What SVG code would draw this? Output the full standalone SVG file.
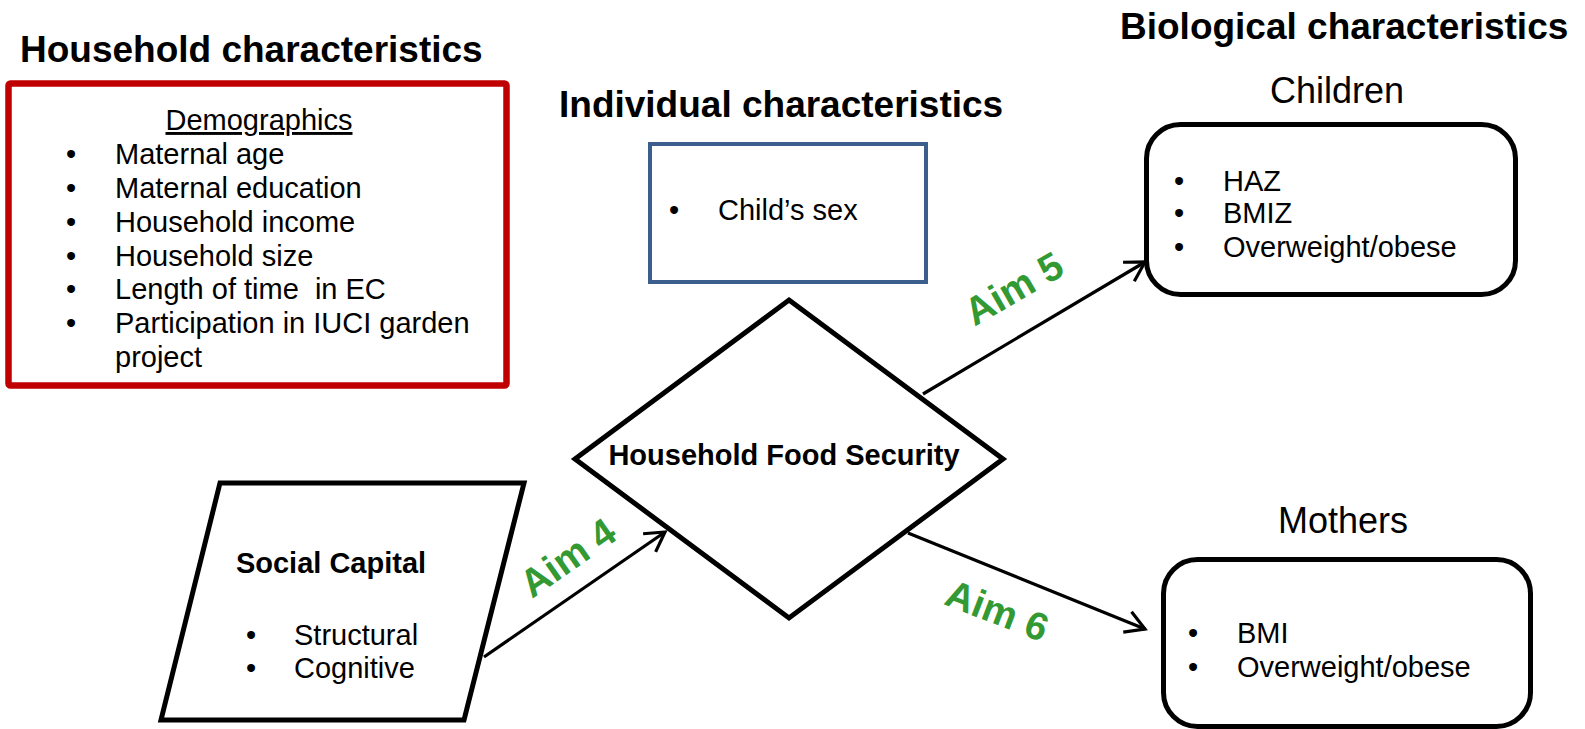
<svg xmlns="http://www.w3.org/2000/svg" width="1585" height="729" viewBox="0 0 1585 729">
<style>
text{font-family:"Liberation Sans",Arial,sans-serif;fill:#000}
.title{font-size:37px;font-weight:bold}
.sub{font-size:36px}
.body{font-size:29px}
.bold{font-size:29px;font-weight:bold}
.bul{font-size:29px;text-anchor:middle}
.aim{font-size:39px;font-weight:bold;fill:#339933;text-anchor:middle}
.shape{fill:#fff;stroke:#000;stroke-width:5;stroke-linejoin:miter}
.conn{stroke:#000;stroke-width:3.2;fill:none}
</style>
<defs>
<marker id="arr" markerUnits="userSpaceOnUse" viewBox="-22 -14 26 28" markerWidth="26" markerHeight="28" refX="0" refY="0" orient="auto" overflow="visible">
<path d="M-19,-11 L0,0 L-19,11" fill="none" stroke="#000" stroke-width="3.2" stroke-linejoin="miter"/>
</marker>
</defs>
<rect width="1585" height="729" fill="#fff"/>

<g id="household">
<text class="title" x="20" y="62">Household characteristics</text>
<rect x="8.5" y="83.5" width="498" height="302" rx="2" fill="#fff" stroke="#C00000" stroke-width="6.5"/>
<text class="body" x="259" y="130" text-anchor="middle" text-decoration="underline">Demographics</text>
<text class="bul" x="71" y="164">•</text><text class="body" x="115" y="164">Maternal age</text>
<text class="bul" x="71" y="198">•</text><text class="body" x="115" y="198">Maternal education</text>
<text class="bul" x="71" y="232">•</text><text class="body" x="115" y="232">Household income</text>
<text class="bul" x="71" y="266">•</text><text class="body" x="115" y="266">Household size</text>
<text class="bul" x="71" y="299">•</text><text class="body" x="115" y="299" xml:space="preserve">Length of time  in EC</text>
<text class="bul" x="71" y="333">•</text><text class="body" x="115" y="333">Participation in IUCI garden</text>
<text class="body" x="115" y="367">project</text>
</g>

<g id="individual">
<text class="title" x="559" y="117">Individual characteristics</text>
<rect x="650" y="144" width="276" height="138" fill="#fff" stroke="#3B5E8C" stroke-width="4"/>
<text class="bul" x="674" y="220">•</text><text class="body" x="718" y="220">Child’s sex</text>
</g>

<g id="food-security">
<polygon class="shape" points="789,300 1003,459 789,618 575,459"/>
<text class="bold" x="784" y="465" text-anchor="middle">Household Food Security</text>
</g>

<g id="social-capital">
<polygon class="shape" points="220,483 524,483 464,720 161,720"/>
<text class="bold" x="331" y="573" text-anchor="middle">Social Capital</text>
<text class="bul" x="251" y="645">•</text><text class="body" x="294" y="645">Structural</text>
<text class="bul" x="251" y="678">•</text><text class="body" x="294" y="678">Cognitive</text>
</g>

<g id="biological">
<text class="title" x="1120" y="39">Biological characteristics</text>
</g>

<g id="children">
<text class="sub" x="1337" y="103" text-anchor="middle">Children</text>
<rect class="shape" x="1146.5" y="124.5" width="369" height="170" rx="34"/>
<text class="bul" x="1179" y="191">•</text><text class="body" x="1223" y="191">HAZ</text>
<text class="bul" x="1179" y="223">•</text><text class="body" x="1223" y="223">BMIZ</text>
<text class="bul" x="1179" y="257">•</text><text class="body" x="1223" y="257">Overweight/obese</text>
</g>

<g id="mothers">
<text class="sub" x="1343" y="533" text-anchor="middle">Mothers</text>
<rect class="shape" x="1163.5" y="559.5" width="367" height="167" rx="34"/>
<text class="bul" x="1193" y="643">•</text><text class="body" x="1237" y="643">BMI</text>
<text class="bul" x="1193" y="677">•</text><text class="body" x="1237" y="677">Overweight/obese</text>
</g>

<g id="connectors">
<line class="conn" x1="484" y1="657" x2="665" y2="532" marker-end="url(#arr)"/>
<line class="conn" x1="923" y1="394" x2="1145" y2="262" marker-end="url(#arr)"/>
<line class="conn" x1="908" y1="533" x2="1145" y2="629" marker-end="url(#arr)"/>
<text class="aim" transform="translate(568,558) rotate(-35)" y="13">Aim 4</text>
<text class="aim" transform="translate(1014,289) rotate(-30)" y="13">Aim 5</text>
<text class="aim" transform="translate(997,611) rotate(21)" y="13">Aim 6</text>
</g>
</svg>
